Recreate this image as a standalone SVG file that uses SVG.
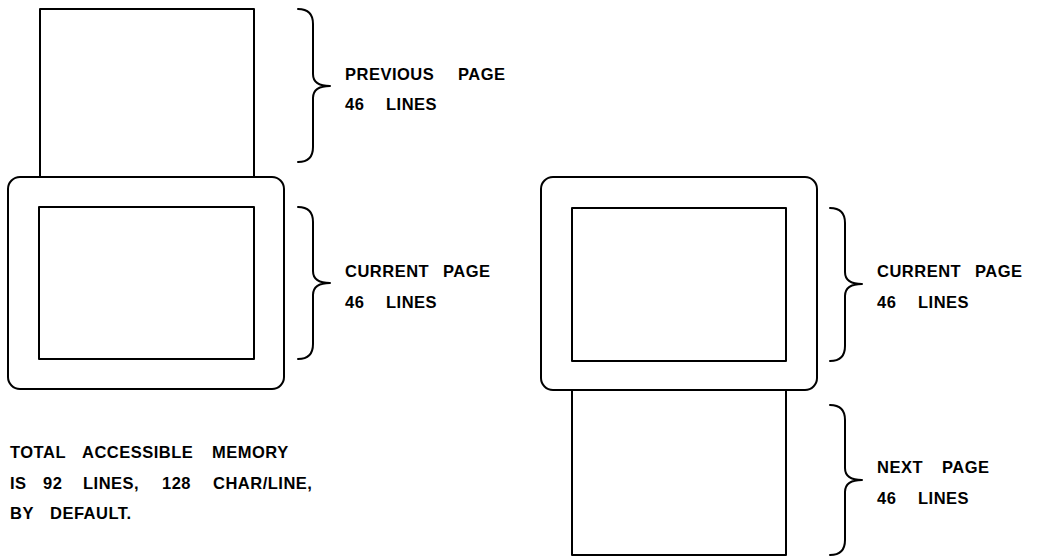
<svg xmlns="http://www.w3.org/2000/svg" width="1037" height="557" viewBox="0 0 1037 557">
<style>
.ln{fill:none;stroke:#000;stroke-width:2;stroke-linejoin:round;stroke-linecap:round}
.t{font-family:"Liberation Sans",Arial,sans-serif;font-weight:bold;font-size:16.5px;fill:#000;letter-spacing:0.5px}
</style>
<rect width="1037" height="557" fill="#fff"/>
<g id="left-previous-page">
<rect class="ln" x="40" y="9" width="214" height="168"/>
</g>
<g id="left-screen">
<rect class="ln" x="8" y="177" width="276" height="212" rx="12"/>
<rect class="ln" x="39" y="207" width="215" height="152"/>
</g>
<g id="right-screen">
<rect class="ln" x="541" y="177" width="276" height="213" rx="12"/>
<rect class="ln" x="572" y="208" width="214" height="153"/>
</g>
<g id="right-next-page">
<path class="ln" d="M572,390 L572,555 L786,555 L786,390"/>
</g>
<g id="braces">
<path class="ln" d="M298,9 Q313,9 313,24 L313,74 Q313,86 330,86 Q313,86 313,98 L313,147 Q313,162 298,162"/>
<path class="ln" d="M298,207 Q313,207 313,222 L313,271 Q313,283 330,283 Q313,283 313,295 L313,344 Q313,359 298,359"/>
<path class="ln" d="M830,208 Q845,208 845,223 L845,272 Q845,284 862,284 Q845,284 845,296 L845,346 Q845,361 830,361"/>
<path class="ln" d="M830,405 Q845,405 845,420 L845,468 Q845,480 862,480 Q845,480 845,492 L845,540 Q845,555 830,555"/>
</g>
<g id="label-previous">
<text class="t" y="80"><tspan x="345">PREVIOUS</tspan><tspan x="458">PAGE</tspan></text>
<text class="t" y="110"><tspan x="345">46</tspan><tspan x="386">LINES</tspan></text>
</g>
<g id="label-current-left">
<text class="t" y="277"><tspan x="345">CURRENT</tspan><tspan x="443">PAGE</tspan></text>
<text class="t" y="308"><tspan x="345">46</tspan><tspan x="386">LINES</tspan></text>
</g>
<g id="label-current-right">
<text class="t" y="277"><tspan x="877">CURRENT</tspan><tspan x="975">PAGE</tspan></text>
<text class="t" y="308"><tspan x="877">46</tspan><tspan x="918">LINES</tspan></text>
</g>
<g id="label-next">
<text class="t" y="473"><tspan x="877">NEXT</tspan><tspan x="942">PAGE</tspan></text>
<text class="t" y="504"><tspan x="877">46</tspan><tspan x="918">LINES</tspan></text>
</g>
<g id="note">
<text class="t" y="458"><tspan x="10">TOTAL</tspan><tspan x="82">ACCESSIBLE</tspan><tspan x="212">MEMORY</tspan></text>
<text class="t" y="489"><tspan x="10">IS</tspan><tspan x="43">92</tspan><tspan x="83">LINES,</tspan><tspan x="162">128</tspan><tspan x="213">CHAR/LINE,</tspan></text>
<text class="t" y="519"><tspan x="10">BY</tspan><tspan x="50">DEFAULT.</tspan></text>
</g>
</svg>
